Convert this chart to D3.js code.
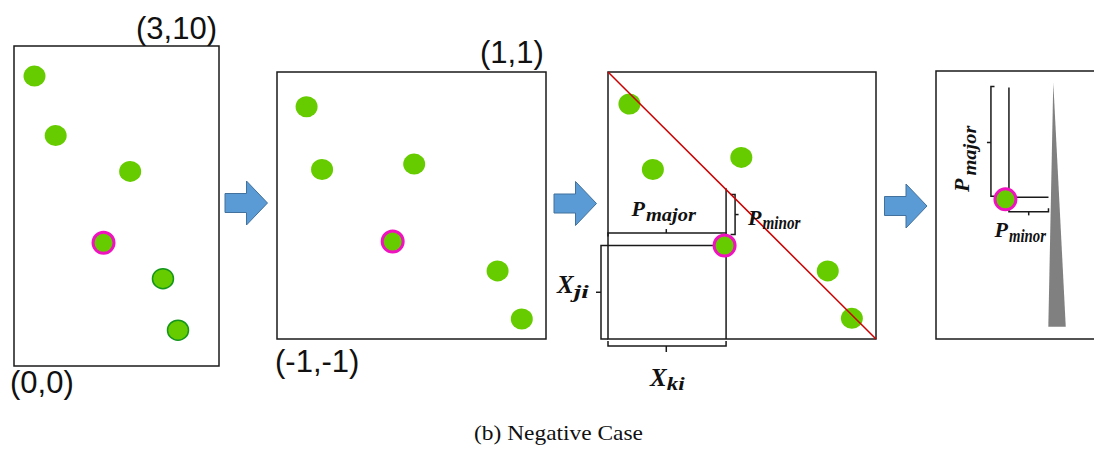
<!DOCTYPE html>
<html><head><meta charset="utf-8">
<script src="https://cdn.jsdelivr.net/npm/d3@7"></script>
<style>html,body{margin:0;padding:0;background:#fff;} svg{display:block;}</style>
</head><body>
<svg id="c" width="1094" height="449"></svg>
<script>
// ---------------- data ----------------
// Panel 1: raw space (0,0)-(3,10)
const panel1X = [0.30, 0.61, 1.70, 1.31, 2.18, 2.40];
const panel1Y = [9.06, 7.20, 6.08, 3.85, 2.73, 1.12];
const panel1Highlight = 3;
const panel1Edged = [4, 5];
const panel1Labels = ["(3,10)", "(0,0)"];
// Panel 2: normalized (-1,-1)-(1,1)
const panel2X = [-0.78, -0.665, 0.02, -0.14, 0.64, 0.82];
const panel2Y = [0.74, 0.27, 0.31, -0.27, -0.49, -0.85];
const panel2Highlight = 3;
const panel2Labels = ["(1,1)", "(-1,-1)"];
// Panel 3: normalized with diagonal
const panel3X = [-0.84, -0.665, -0.005, -0.13, 0.64, 0.82];
const panel3Y = [0.76, 0.27, 0.36, -0.30, -0.49, -0.845];
const panel3Highlight = 3;
const diagonal = [[-1, 1], [1, -1]];
// Panel 4: projected point and wedge
const panel4Point = [4.34, 5.21];
const wedge = [[7.33, 9.57], [7.02, 0.46], [8.11, 0.46]];
const panel4LineTop = 9.38;
const panel4LineRight = 7.03;
const caption = "(b) Negative Case";

// ---------------- drawing ----------------
const svg = d3.select("#c");
svg.append("rect").attr("width", 1094).attr("height", 449).attr("fill", "#fff");

const GREEN = "#66CC00", MAG = "#F012BE", DARKG = "#13961A", BLUE = "#5B9BD5", BLUE_S = "#41719C";
const SANS = "'Liberation Sans', Arial, Helvetica, sans-serif";
const SERIF = "'Liberation Serif', 'Times New Roman', serif";

function mk(xr, yr, xd, yd) {
  return { x: d3.scaleLinear().domain(xd).range(xr), y: d3.scaleLinear().domain(yd).range(yr) };
}
const s1 = mk([14, 219], [366, 46], [0, 3], [0, 10]);
const s2 = mk([277, 546], [339, 72], [-1, 1], [-1, 1]);
const s3 = mk([608, 876], [339, 72], [-1, 1], [-1, 1]);
const s4 = mk([936, 1096], [339, 71], [0, 10], [0, 10]);

function box(s) {
  const [x0, x1] = s.x.range(), [y1, y0] = s.y.range();
  svg.append("rect").attr("x", x0).attr("y", y0).attr("width", x1 - x0).attr("height", y1 - y0)
    .attr("fill", "none").attr("stroke", "#1a1a1a").attr("stroke-width", 1.5);
}
[s1, s2, s3, s4].forEach(box);

function points(s, xs, ys, hi, edged) {
  const g = svg.append("g");
  xs.forEach((v, i) => {
    if (i === hi) {
      g.append("circle").attr("cx", s.x(v)).attr("cy", s.y(ys[i])).attr("r", 10.5)
        .attr("fill", GREEN).attr("stroke", MAG).attr("stroke-width", 3);
    } else if (edged && edged.includes(i)) {
      g.append("ellipse").attr("cx", s.x(v)).attr("cy", s.y(ys[i])).attr("rx", 10.5).attr("ry", 10)
        .attr("fill", GREEN).attr("stroke", DARKG).attr("stroke-width", 1.5);
    } else {
      g.append("ellipse").attr("cx", s.x(v)).attr("cy", s.y(ys[i])).attr("rx", 11).attr("ry", 10.5)
        .attr("fill", GREEN);
    }
  });
}

function line(pts, stroke, w) {
  svg.append("path").attr("d", d3.line()(pts)).attr("fill", "none")
    .attr("stroke", stroke || "#1a1a1a").attr("stroke-width", w || 1.5);
}

function label(x, y, t, size) {
  svg.append("text").attr("x", x).attr("y", y).text(t)
    .attr("font-family", SANS).attr("font-size", size).attr("fill", "#111");
}

// Panel 1
points(s1, panel1X, panel1Y, panel1Highlight, panel1Edged);
label(s1.x(3) - 83, s1.y(10) - 7, panel1Labels[0], 31);
label(s1.x(0) - 4, s1.y(0) + 27, panel1Labels[1], 31);

// Panel 2
points(s2, panel2X, panel2Y, panel2Highlight);
label(s2.x(1) - 66, s2.y(1) - 9, panel2Labels[0], 31);
label(s2.x(-1) - 2, s2.y(-1) + 33, panel2Labels[1], 31);

// Panel 3 annotations
const cx = s3.x(panel3X[panel3Highlight]), cy = s3.y(panel3Y[panel3Highlight]);
const L = s3.x(-1), B = s3.y(-1);
const redAtC = s3.y(-panel3X[panel3Highlight]);
// inner square
line([[L, cy], [cx + 1.5, cy]]);
line([[cx + 1.5, redAtC], [cx + 1.5, B]]);
// P_major bracket
line([[L, cy - 9], [L, cy - 12.5], [cx + 1.5, cy - 12.5], [cx + 1.5, cy - 9]]);
line([[(L + cx) / 2, cy - 12.5], [(L + cx) / 2, cy - 16.5]]);
// P_minor bracket
line([[cx + 6, cy - 51], [cx + 10.5, cy - 51], [cx + 10.5, cy - 11], [cx + 6, cy - 11]]);
line([[cx + 10.5, cy - 31], [cx + 14, cy - 31]]);
// X_ji bracket
line([[L, cy], [L - 7, cy], [L - 7, B], [L, B]]);
line([[L - 7, (cy + B) / 2], [L - 12, (cy + B) / 2]]);
// X_ki bracket
line([[L, B + 2], [L, B + 7], [cx + 1.5, B + 7], [cx + 1.5, B + 2]]);
line([[(L + cx) / 2, B + 7], [(L + cx) / 2, B + 13]]);
points(s3, panel3X, panel3Y, panel3Highlight);
line(diagonal.map(d => [s3.x(d[0]), s3.y(d[1])]), "#CC0000", 1.5);

function symLabel(g, x, y, main, sub, size, subSize, subLen, dy, gap) {
  const t = g.append("text").attr("x", x).attr("y", y).text(main)
    .attr("font-family", SERIF).attr("font-weight", "bold").attr("font-style", "italic")
    .attr("font-size", size).attr("fill", "#111");
  const w = t.node().getComputedTextLength();
  g.append("text").attr("x", x + w + (gap || 0)).attr("y", y + dy).text(sub)
    .attr("font-family", SERIF).attr("font-weight", "bold").attr("font-style", "italic")
    .attr("font-size", subSize).attr("fill", "#111")
    .attr("textLength", subLen).attr("lengthAdjust", "spacingAndGlyphs");
}
symLabel(svg, 631.5, 216, "P", "major", 22, 18, 50, 5, 1);
symLabel(svg, 748, 225, "P", "minor", 22, 18, 38, 4, 1);
symLabel(svg, 557, 293, "X", "ji", 25, 18, 15, 5, 0);
symLabel(svg, 650, 385.5, "X", "ki", 25, 18, 18, 4, 0);

// Panel 4
const px = s4.x(panel4Point[0]), py = s4.y(panel4Point[1]);
const lx = px + 3.5, ly = py - 2;
line([[lx, s4.y(panel4LineTop)], [lx, ly], [s4.x(panel4LineRight), ly]]);
// P_major bracket (left)
line([[994.5 - 0, s4.y(panel4LineTop) - 1], [px - 14.5, s4.y(panel4LineTop) - 1], [px - 14.5, ly - 1], [px - 10.5, ly - 1]]);
line([[px - 14.5, (s4.y(panel4LineTop) + ly) / 2], [px - 18.5, (s4.y(panel4LineTop) + ly) / 2]]);
// P_minor bracket (below)
line([[lx, ly + 11], [lx, ly + 14.5], [s4.x(panel4LineRight), ly + 14.5], [s4.x(panel4LineRight), ly + 11]]);
line([[(lx + s4.x(panel4LineRight)) / 2, ly + 14.5], [(lx + s4.x(panel4LineRight)) / 2, ly + 18]]);
svg.append("polygon").attr("points", wedge.map(d => [s4.x(d[0]), s4.y(d[1])].join(",")).join(" "))
  .attr("fill", "#808080");
svg.append("circle").attr("cx", px).attr("cy", py).attr("r", 10.5)
  .attr("fill", GREEN).attr("stroke", MAG).attr("stroke-width", 3);
symLabel(svg, 994.5, 237, "P", "minor", 22, 18, 37, 4.5, 1);
const rg = svg.append("g").attr("transform", `translate(968.5,192) rotate(-90)`);
symLabel(rg, 0, 0, "P", "major", 22, 18, 50, 7, 3);

// Arrows
const arrowAt = [[225, 203], [554, 203.5], [884.5, 206]];
arrowAt.forEach(([x0, c]) => {
  const pts = [[x0, c - 9.5], [x0 + 21.5, c - 9.5], [x0 + 21.5, c - 22], [x0 + 42.5, c],
               [x0 + 21.5, c + 22], [x0 + 21.5, c + 9.5], [x0, c + 9.5]];
  svg.append("polygon").attr("points", pts.map(p => p.join(",")).join(" "))
    .attr("fill", BLUE).attr("stroke", BLUE_S).attr("stroke-width", 1);
});

// Caption
svg.append("text").attr("x", 474).attr("y", 440).text(caption)
  .attr("font-family", SERIF).attr("font-size", 21.5).attr("fill", "#111")
  .attr("textLength", 169).attr("lengthAdjust", "spacingAndGlyphs");
</script>
</body></html>
